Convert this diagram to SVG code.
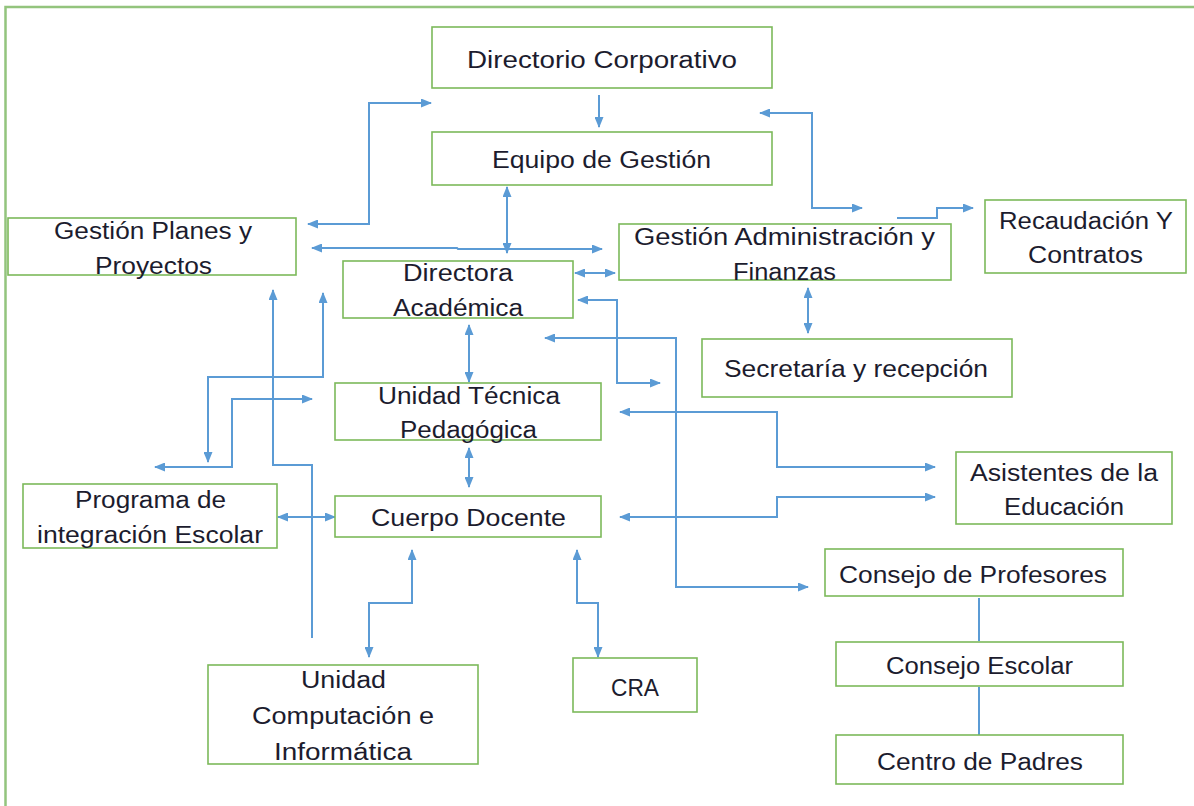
<svg xmlns="http://www.w3.org/2000/svg" width="1194" height="806" viewBox="0 0 1194 806">
<style>
.box{fill:#fff;stroke:#7cb95a;stroke-width:1.6}
.t{font-family:"Liberation Sans",Arial,sans-serif;font-size:23px;fill:#1c1c2e;text-anchor:middle}
.c{fill:none;stroke:#5b9bd5;stroke-width:2}
.cb{fill:none;stroke:#5b9bd5;stroke-width:2;marker-start:url(#ah);marker-end:url(#ah)}
.ce{fill:none;stroke:#5b9bd5;stroke-width:2;marker-end:url(#ah)}
.cs{fill:none;stroke:#5b9bd5;stroke-width:2;marker-start:url(#ah)}
</style>
<defs>
<marker id="ah" markerUnits="userSpaceOnUse" markerWidth="11" markerHeight="9" refX="10" refY="4.5" orient="auto-start-reverse" viewBox="0 0 11 9">
<path d="M0,0 L11,4.5 L0,9 z" fill="#5b9bd5"/>
</marker>
</defs>
<rect width="1194" height="806" fill="#fff"/>
<path d="M5.5,806 V7 H1194" fill="none" stroke="#93c47d" stroke-width="2.5"/>

<g id="connectors">
<path class="ce" d="M599,95 V127"/>
<path class="cb" d="M308,224 H369 V103 H431"/>
<path class="cb" d="M312,248 H457 L458,249 H602"/>
<path class="cb" d="M507,187 V253"/>
<path class="cb" d="M575,273 H615"/>
<path class="cb" d="M760,113 H812 V208 H862"/>
<path class="ce" d="M897,218 H937 V208 H973"/>
<path class="cb" d="M808,288 V333"/>
<path class="cb" d="M578,300 H617 V383 H660"/>
<path class="cb" d="M545,338 H676 V587 H808"/>
<path class="cb" d="M620,412 H777 V467 H935"/>
<path class="cb" d="M620,517 H777 V497 H935"/>
<path class="cb" d="M469,325 V382"/>
<path class="cb" d="M469,448 V487"/>
<path class="cb" d="M278,517 H335"/>
<path class="cs" d="M273,290 V465 H312 V638"/>
<path class="cb" d="M323,293 V377 H208 V462"/>
<path class="cb" d="M312,399 H232 V467 H155"/>
<path class="cb" d="M412,550 V603 H369 V657"/>
<path class="cb" d="M577,550 V603 H598 V657"/>
<path class="c" d="M979,598 V641"/>
<path class="c" d="M979,687 V735"/>
</g>

<g id="directorio">
<rect class="box" x="432" y="27" width="340" height="61"/>
<text class="t" x="602" y="68" textLength="270" lengthAdjust="spacingAndGlyphs">Directorio Corporativo</text>
</g>
<g id="equipo">
<rect class="box" x="432" y="132" width="340" height="53"/>
<text class="t" x="601.5" y="168" textLength="219" lengthAdjust="spacingAndGlyphs">Equipo de Gestión</text>
</g>
<g id="planes">
<rect class="box" x="8" y="218" width="288" height="57"/>
<text class="t" x="153" y="239" textLength="198" lengthAdjust="spacingAndGlyphs">Gestión Planes y</text>
<text class="t" x="153.5" y="274" textLength="117" lengthAdjust="spacingAndGlyphs">Proyectos</text>
</g>
<g id="directora">
<rect class="box" x="343" y="261" width="230" height="57"/>
<text class="t" x="458" y="281" textLength="110" lengthAdjust="spacingAndGlyphs">Directora</text>
<text class="t" x="458" y="316" textLength="130" lengthAdjust="spacingAndGlyphs">Académica</text>
</g>
<g id="administracion">
<rect class="box" x="619" y="224" width="332" height="56"/>
<text class="t" x="784.5" y="245" textLength="301" lengthAdjust="spacingAndGlyphs">Gestión Administración y</text>
<text class="t" x="784.5" y="280" textLength="103" lengthAdjust="spacingAndGlyphs">Finanzas</text>
</g>
<g id="recaudacion">
<rect class="box" x="985" y="200" width="201" height="73"/>
<text class="t" x="1086" y="229" textLength="174" lengthAdjust="spacingAndGlyphs">Recaudación Y</text>
<text class="t" x="1085.5" y="263" textLength="115" lengthAdjust="spacingAndGlyphs">Contratos</text>
</g>
<g id="secretaria">
<rect class="box" x="702" y="339" width="310" height="58"/>
<text class="t" x="856" y="377" textLength="264" lengthAdjust="spacingAndGlyphs">Secretaría y recepción</text>
</g>
<g id="utp">
<rect class="box" x="335" y="383" width="266" height="57"/>
<text class="t" x="469" y="404" textLength="182" lengthAdjust="spacingAndGlyphs">Unidad Técnica</text>
<text class="t" x="468.5" y="438" textLength="137" lengthAdjust="spacingAndGlyphs">Pedagógica</text>
</g>
<g id="asistentes">
<rect class="box" x="956" y="452" width="216" height="72"/>
<text class="t" x="1064" y="481" textLength="188" lengthAdjust="spacingAndGlyphs">Asistentes de la</text>
<text class="t" x="1064" y="515" textLength="120" lengthAdjust="spacingAndGlyphs">Educación</text>
</g>
<g id="pie">
<rect class="box" x="23" y="484" width="254" height="64"/>
<text class="t" x="150.5" y="508" textLength="151" lengthAdjust="spacingAndGlyphs">Programa de</text>
<text class="t" x="150" y="543" textLength="226" lengthAdjust="spacingAndGlyphs">integración Escolar</text>
</g>
<g id="docente">
<rect class="box" x="335" y="496" width="266" height="41"/>
<text class="t" x="468.5" y="526" textLength="195" lengthAdjust="spacingAndGlyphs">Cuerpo Docente</text>
</g>
<g id="profesores">
<rect class="box" x="825" y="549" width="298" height="47"/>
<text class="t" x="973" y="583" textLength="268" lengthAdjust="spacingAndGlyphs">Consejo de Profesores</text>
</g>
<g id="escolar">
<rect class="box" x="836" y="642" width="287" height="44"/>
<text class="t" x="979.5" y="674" textLength="187" lengthAdjust="spacingAndGlyphs">Consejo Escolar</text>
</g>
<g id="padres">
<rect class="box" x="836" y="735" width="287" height="49"/>
<text class="t" x="980" y="770" textLength="206" lengthAdjust="spacingAndGlyphs">Centro de Padres</text>
</g>
<g id="computacion">
<rect class="box" x="208" y="665" width="270" height="99"/>
<text class="t" x="343.5" y="688" textLength="85" lengthAdjust="spacingAndGlyphs">Unidad</text>
<text class="t" x="343" y="724" textLength="182" lengthAdjust="spacingAndGlyphs">Computación e</text>
<text class="t" x="343" y="760" textLength="138" lengthAdjust="spacingAndGlyphs">Informática</text>
</g>
<g id="cra">
<rect class="box" x="573" y="658" width="124" height="54"/>
<text class="t" x="635" y="696" textLength="48" lengthAdjust="spacingAndGlyphs">CRA</text>
</g>
</svg>
